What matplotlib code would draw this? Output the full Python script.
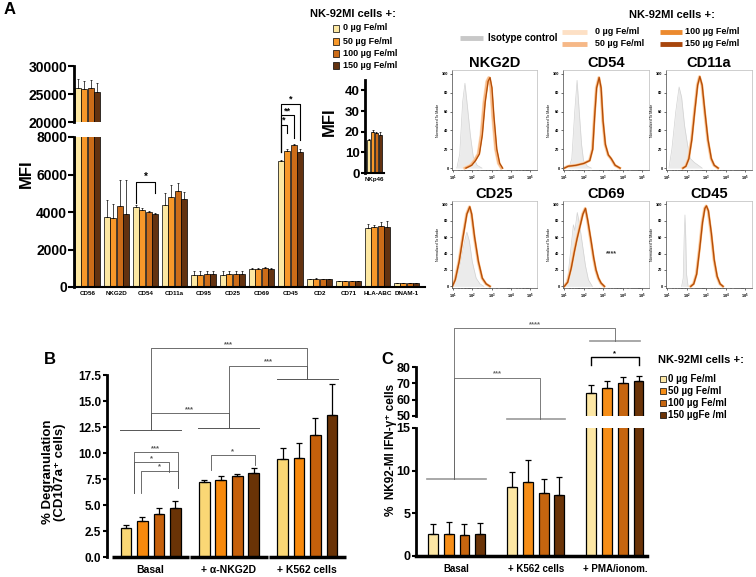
import numpy as np
import matplotlib
matplotlib.use('Agg')
import matplotlib.pyplot as plt
from matplotlib.patches import Rectangle

plt.rcParams['font.family'] = ['Liberation Sans', 'DejaVu Sans']
plt.rcParams['font.weight'] = 'bold'
plt.rcParams['axes.labelweight'] = 'bold'
plt.rcParams['axes.titleweight'] = 'bold'
plt.rcParams['mathtext.default'] = 'regular'

W, H = 756, 577

# ---------------- data ----------------
doses = ['0 µg Fe/ml', '50 µg Fe/ml', '100 µg Fe/ml', '150 µg Fe/ml']
doses_c = ['0 µg Fe/ml', '50 µg Fe/ml', '100 µg Fe/ml', '150 µgFe /ml']

# panel A: surface marker MFI
markers_a = ['CD56', 'NKG2D', 'CD54', 'CD11a', 'CD95', 'CD25', 'CD69', 'CD45',
             'CD2', 'CD71', 'HLA-ABC', 'DNAM-1']
mfi_0 = [26000, 3750, 4250, 4380, 650, 650, 980, 6700, 430, 300, 3130, 230]
mfi_50 = [25900, 3700, 4120, 4800, 650, 700, 960, 7250, 440, 300, 3200, 230]
mfi_100 = [26100, 4300, 3980, 5100, 700, 700, 1000, 7550, 430, 300, 3260, 230]
mfi_150 = [25400, 3900, 3880, 4720, 700, 670, 980, 7200, 420, 300, 3200, 230]
mfi_err_0 = [1600, 900, 100, 650, 200, 180, 40, 100, 20, 10, 230, 10]
mfi_err_50 = [1500, 750, 80, 650, 200, 170, 40, 120, 20, 10, 100, 10]
mfi_err_100 = [1400, 1400, 50, 450, 180, 180, 60, 100, 20, 10, 220, 10]
mfi_err_150 = [1500, 1800, 50, 350, 180, 180, 40, 150, 20, 10, 330, 10]

nkp46 = [15.8, 19.8, 19.2, 18.5]
nkp46_err = [0.5, 1.0, 0.8, 1.5]

# panel A histograms: (log10 fluorescence, % of mode)
nkg2d_iso = [(1.2, 0), (1.35, 15), (1.5, 70), (1.62, 90), (1.75, 65), (1.9, 35),
             (2.05, 12), (2.25, 3), (2.5, 0)]
nkg2d_pos = [(1.6, 0), (1.9, 3), (2.1, 8), (2.3, 15), (2.45, 35), (2.6, 70),
             (2.75, 92), (2.85, 96), (2.95, 85), (3.05, 55), (3.2, 20), (3.35, 5), (3.5, 0)]
cd54_iso = [(1.25, 0), (1.4, 10), (1.55, 60), (1.67, 93), (1.78, 60), (1.9, 25),
            (2.0, 8), (2.2, 2), (2.4, 0)]
cd54_pos = [(1.0, 0), (1.2, 2), (1.6, 3), (2.0, 5), (2.3, 8), (2.45, 20), (2.55, 55),
            (2.65, 85), (2.78, 96), (2.88, 85), (2.98, 50), (3.1, 25), (3.25, 14),
            (3.4, 10), (3.6, 3), (3.85, 0)]
cd11a_iso = [(1.1, 0), (1.25, 20), (1.45, 60), (1.62, 86), (1.75, 75), (1.9, 45),
             (2.05, 25), (2.2, 10), (2.4, 6), (2.6, 3), (2.8, 0)]
cd11a_pos = [(1.8, 0), (1.95, 2), (2.1, 10), (2.25, 30), (2.4, 60), (2.55, 88),
             (2.66, 97), (2.78, 88), (2.92, 60), (3.08, 30), (3.25, 10), (3.4, 3), (3.6, 0)]
cd25_iso = [(1.0, 0), (1.2, 10), (1.4, 30), (1.6, 55), (1.72, 66), (1.85, 55),
            (2.0, 30), (2.2, 10), (2.4, 3), (2.6, 0)]
cd25_pos = [(0.95, 0), (1.1, 8), (1.3, 30), (1.5, 60), (1.7, 88), (1.85, 97),
            (1.95, 88), (2.1, 60), (2.3, 30), (2.5, 10), (2.7, 3), (2.9, 0)]
cd69_iso = [(1.05, 0), (1.2, 12), (1.35, 45), (1.48, 75), (1.56, 68), (1.68, 90),
            (1.8, 75), (1.95, 50), (2.1, 25), (2.25, 8), (2.45, 0)]
cd69_pos = [(1.0, 0), (1.17, 5), (1.35, 22), (1.51, 42), (1.65, 58), (1.77, 70),
            (1.95, 88), (2.08, 95), (2.2, 80), (2.37, 55), (2.5, 35), (2.62, 20),
            (2.75, 10), (2.88, 4), (3.05, 0)]
cd45_iso = [(1.75, 0), (1.83, 10), (1.88, 60), (1.92, 87), (1.96, 60), (2.0, 15), (2.08, 0)]
cd45_pos = [(2.2, 0), (2.35, 3), (2.5, 15), (2.65, 45), (2.8, 78), (2.92, 95),
            (3.0, 98), (3.1, 92), (3.25, 65), (3.4, 32), (3.55, 12), (3.7, 3), (3.85, 0)]

# panel B: degranulation
groups_b = ['Basal', '+ α-NKG2D', '+ K562 cells']
degr_0 = [2.8, 7.2, 9.4]
degr_50 = [3.5, 7.4, 9.5]
degr_100 = [4.1, 7.8, 11.7]
degr_150 = [4.7, 8.1, 13.7]
degr_err_0 = [0.3, 0.25, 1.1]
degr_err_50 = [0.3, 0.35, 1.5]
degr_err_100 = [0.6, 0.2, 1.7]
degr_err_150 = [0.7, 0.45, 2.9]

# panel C: IFN-gamma
groups_c = ['Basal', '+ K562 cells', '+ PMA/ionom.']
ifn_0 = [2.6, 8.1, 64.0]
ifn_50 = [2.6, 8.7, 67.0]
ifn_100 = [2.5, 7.4, 70.5]
ifn_150 = [2.6, 7.2, 71.5]
ifn_err_0 = [1.1, 1.8, 5.0]
ifn_err_50 = [1.4, 2.5, 4.5]
ifn_err_100 = [1.2, 1.6, 3.5]
ifn_err_150 = [1.3, 2.0, 2.8]

# ---------------- styling ----------------
cols_a = ['#fde8a2', '#f7982a', '#cc6c18', '#633210']
cols_b = ['#fad775', '#f7890c', '#c5600b', '#6a3306']
cols_c = ['#fde7a4', '#f68e18', '#c6650f', '#6b3408']
hist_cols = ['#fde0c5', '#f6b887', '#ec8a2f', '#a8460c']
offs = np.array([-1.5, -0.5, 0.5, 1.5])


def box(l, t, r, b):
    return [l / W, 1 - b / H, (r - l) / W, (b - t) / H]


def bracket(ax, x0, x1, y, yl, yr, text, color='#555555', lw=0.6, fs=5.5):
    ax.plot([x0, x0, x1, x1], [yl, y, y, yr], color=color, lw=lw, clip_on=False)
    if text:
        ax.text((x0 + x1) / 2, y, text, ha='center', va='bottom', fontsize=fs,
                color=color, clip_on=False)


def bars(ax, centers, vals, errs, cols, width, elw, cap, edge_lw):
    for k in range(4):
        xs = centers + offs[k]
        ax.bar(xs, vals[k], width=width, color=cols[k], edgecolor='black', linewidth=edge_lw)
        ax.errorbar(xs, vals[k], yerr=[np.zeros(len(xs)), errs[k]], fmt='none',
                    ecolor='black', elinewidth=elw, capsize=cap, capthick=elw)


fig = plt.figure(figsize=(W / 100, H / 100), dpi=100)

# ---------------- panel A bars ----------------
gx_a = np.arange(len(markers_a)) * 4.46
vals_a = [mfi_0, mfi_50, mfi_100, mfi_150]
errs_a = [mfi_err_0, mfi_err_50, mfi_err_100, mfi_err_150]

ax_lo = fig.add_axes(box(74, 137, 425, 287))
ax_hi = fig.add_axes(box(74, 66, 425, 122))
for ax in (ax_lo, ax_hi):
    ax.set_facecolor('none')
    bars(ax, gx_a, vals_a, errs_a, cols_a, 0.9, 0.5, 1.0, 0.5)
    ax.set_xlim(-2.08, 51.9)
    ax.spines['top'].set_visible(False)
    ax.spines['right'].set_visible(False)
    ax.spines['left'].set_linewidth(2)
    ax.tick_params(axis='y', width=1.5, length=4, labelsize=10, pad=1)
ax_lo.set_ylim(0, 8000)
ax_lo.set_yticks([0, 2000, 4000, 6000, 8000])
ax_lo.spines['bottom'].set_linewidth(1.5)
ax_lo.set_xticks(gx_a)
ax_lo.set_xticklabels(markers_a, fontsize=4.5)
ax_lo.tick_params(axis='x', length=0, pad=3)
ax_hi.set_ylim(20000, 30000)
ax_hi.set_yticks([20000, 25000, 30000])
ax_hi.spines['bottom'].set_visible(False)
ax_hi.set_xticks([])

# significance in A
c54 = gx_a[2] + offs
bracket(ax_lo, c54[0], c54[3], 5600, 4480, 5010, '*', color='black', lw=0.8, fs=7)
c45 = gx_a[7] + offs
bracket(ax_lo, c45[0], c45[1], 8640, 7200, 8210, '*', color='black', lw=0.8, fs=6.5)
bracket(ax_lo, c45[0], c45[2], 9170, 7200, 7950, '**', color='black', lw=0.8, fs=6.5)
bracket(ax_lo, c45[0], c45[3], 9760, 7200, 7840, '*', color='black', lw=0.8, fs=6.5)

# NKp46 inset
ax_in = fig.add_axes(box(365, 80, 384, 173))
ax_in.set_facecolor('none')
for k in range(4):
    ax_in.bar(k, nkp46[k], width=0.9, color=cols_a[k], edgecolor='black', linewidth=0.5)
    ax_in.errorbar(k, nkp46[k], yerr=[[0], [nkp46_err[k]]], fmt='none', ecolor='black',
                   elinewidth=0.5, capsize=1, capthick=0.5)
ax_in.set_xlim(-0.95, 3.95)
ax_in.set_ylim(0, 45)
ax_in.set_yticks([0, 10, 20, 30, 40])
ax_in.spines['top'].set_visible(False)
ax_in.spines['right'].set_visible(False)
ax_in.spines['left'].set_linewidth(2)
ax_in.spines['bottom'].set_linewidth(1.5)
ax_in.tick_params(axis='y', width=1.5, length=3, labelsize=9.5, pad=1)
ax_in.set_xticks([1.5])
ax_in.set_xticklabels(['NKp46'], fontsize=4.5)
ax_in.tick_params(axis='x', length=0, pad=3)

# ---------------- histograms ----------------
hist_panels = [
    ('NKG2D', nkg2d_iso, nkg2d_pos, 0.07, (452, 70, 537, 170)),
    ('CD54', cd54_iso, cd54_pos, 0.02, (563, 70, 649, 170)),
    ('CD11a', cd11a_iso, cd11a_pos, 0.02, (666, 70, 752, 170)),
    ('CD25', cd25_iso, cd25_pos, 0.02, (452, 201, 537, 288)),
    ('CD69', cd69_iso, cd69_pos, 0.02, (563, 201, 649, 288)),
    ('CD45', cd45_iso, cd45_pos, 0.02, (666, 201, 752, 288)),
]
for title, iso, pos, shift, rect in hist_panels:
    ax = fig.add_axes(box(*rect))
    ix, iy = np.array(iso, dtype=float).T
    ax.fill_between(ix, iy, color='#ebebeb', lw=0)
    ax.plot(ix, iy, color='#d2d2d2', lw=0.5)
    px, py = np.array(pos, dtype=float).T
    shifts = [0.0, 0.01, shift, shift]
    widths = [2.2, 1.6, 1.1, 0.7]
    for k in range(4):
        ax.plot(px + shifts[k], py, color=hist_cols[k], lw=widths[k])
    ax.set_xlim(0.95, 5.35)
    ax.set_ylim(-2, 104)
    ax.set_xticks([1, 2, 3, 4, 5])
    ax.set_xticklabels([r'$10^{%d}$' % d for d in range(1, 6)])
    ax.set_xticks([d + np.log10(m) for d in range(1, 5) for m in range(2, 10)], minor=True)
    ax.set_yticks([0, 20, 40, 60, 80, 100])
    ax.tick_params(labelsize=2.8, length=1.5, width=0.4, pad=1)
    ax.tick_params(which='minor', length=0.8, width=0.3)
    for s in ('left', 'bottom'):
        ax.spines[s].set_linewidth(0.5)
        ax.spines[s].set_color('#444444')
    for s in ('top', 'right'):
        ax.spines[s].set_linewidth(0.5)
        ax.spines[s].set_color('#bbbbbb')
    ax.set_ylabel('Normalized To Mode', fontsize=2.6, fontweight='normal', labelpad=1.5)
    ax.set_title(title, fontsize=10.5, pad=2)
    if title == 'CD69':
        ax.text(3.45, 40, '****', fontsize=5, ha='center', va='center', color='#333333')

# ---------------- panel B ----------------
gx_b = np.array([0, 4.75, 9.5])
axb = fig.add_axes(box(107, 375, 343, 557))
axb.set_facecolor('none')
bars(axb, gx_b, [degr_0, degr_50, degr_100, degr_150],
     [degr_err_0, degr_err_50, degr_err_100, degr_err_150], cols_b, 0.65, 0.9, 2.0, 0.9)
axb.set_xlim(-2.65, 11.67)
axb.set_ylim(0, 17.5)
axb.set_yticks(np.arange(0, 17.6, 2.5))
axb.set_yticklabels(['%.1f' % v for v in np.arange(0, 17.6, 2.5)])
for s in ('top', 'right', 'bottom'):
    axb.spines[s].set_visible(False)
axb.spines['left'].set_linewidth(2)
axb.tick_params(axis='y', width=1.5, length=3, labelsize=8.5, pad=1)
axb.set_xticks(gx_b)
axb.set_xticklabels(groups_b, fontsize=7.5)
axb.tick_params(axis='x', length=0, pad=6)
for c in gx_b:
    axb.plot([max(c - 2.35, -2.65), c + 2.35], [0, 0], color='black', lw=2.5,
             clip_on=False, solid_capstyle='butt')

gc = '#555555'
for c, y in zip(gx_b, [12.2, 12.4, 17.1]):
    axb.plot([c - 1.85, c + 1.85], [y, y], color=gc, lw=0.7, clip_on=False)
bracket(axb, gx_b[0], gx_b[2], 20.1, 12.2, 17.1, '***')
bracket(axb, gx_b[0], gx_b[1], 13.85, 12.2, 12.4, '***')
bracket(axb, gx_b[1], gx_b[2], 18.4, 12.4, 17.1, '***')
bracket(axb, -1.03, 1.64, 10.1, 6.2, 6.6, '***')
bracket(axb, -1.03, 1.09, 9.1, 6.2, 8.2, '*')
bracket(axb, -0.6, 1.64, 8.3, 6.2, 6.6, '*')
bracket(axb, gx_b[1] - 1.09, gx_b[1] + 1.55, 9.8, 8.4, 8.85, '*')

# ---------------- panel C ----------------
gx_c = np.array([0, 5.03, 10.06])
vals_c = [ifn_0, ifn_50, ifn_100, ifn_150]
errs_c = [ifn_err_0, ifn_err_50, ifn_err_100, ifn_err_150]
axc_lo = fig.add_axes(box(416, 428, 647, 556))
axc_hi = fig.add_axes(box(416, 367, 647, 416))
for ax in (axc_lo, axc_hi):
    ax.set_facecolor('none')
    bars(ax, gx_c, vals_c, errs_c, cols_c, 0.63, 0.9, 2.0, 0.9)
    ax.set_xlim(-2.58, 12.1)
    ax.spines['top'].set_visible(False)
    ax.spines['right'].set_visible(False)
    ax.spines['left'].set_linewidth(2)
    ax.tick_params(axis='y', width=1.5, length=3, labelsize=9, pad=1)
axc_lo.set_ylim(0, 15)
axc_lo.set_yticks([0, 5, 10, 15])
axc_lo.spines['bottom'].set_linewidth(2.5)
axc_lo.set_xticks(gx_c)
axc_lo.set_xticklabels(groups_c, fontsize=7)
axc_lo.tick_params(axis='x', length=0, pad=6)
axc_hi.set_ylim(50, 80)
axc_hi.set_yticks([50, 60, 70, 80])
axc_hi.spines['bottom'].set_visible(False)
axc_hi.set_xticks([])

lc = '#999999'
for c, y, hw in zip(gx_c, [9.0, 16.05, 25.2], [1.87, 1.85, 1.6]):
    axc_lo.plot([c - hw, c + hw], [y, y], color=lc, lw=1.2, clip_on=False)
bracket(axc_lo, gx_c[0] - 0.16, gx_c[2], 26.7, 9.0, 25.2, '****', color='#666666')
bracket(axc_lo, gx_c[0] - 0.16, gx_c[1] + 0.3, 20.9, 9.0, 16.05, '***', color='#666666')
bracket(axc_lo, gx_c[2] - 1.5, gx_c[2] + 1.5, 23.3, 22.4, 22.4, '*', color='black', lw=1.0)

# ---------------- overlay: labels and legends ----------------
ov = fig.add_axes([0, 0, 1, 1])
ov.set_xlim(0, W)
ov.set_ylim(H, 0)
ov.axis('off')
ov.set_facecolor('none')

ov.text(4, 9, 'A', fontsize=12, ha='left', va='center')
ov.text(44, 360, 'B', fontsize=12, ha='left', va='center')
ov.text(381, 360, 'C', fontsize=12, ha='left', va='center')

ov.text(26, 174, 'MFI', fontsize=12, rotation=90, ha='center', va='center')
ov.text(329, 122, 'MFI', fontsize=12, rotation=90, ha='center', va='center')
ov.text(54, 472, '% Degranulation\n(CD107a⁺ cells)', fontsize=9.5, rotation=90,
        ha='center', va='center', linespacing=1.1)
ov.text(391, 450, '%  NK92-MI IFN-γ⁺ cells', fontsize=8.5, rotation=90,
        ha='center', va='center')

# legend A
ov.text(310, 14, 'NK-92MI cells +:', fontsize=8, ha='left', va='center')
for k, yy in enumerate([28, 41, 53, 65]):
    ov.add_patch(Rectangle((333, yy - 3.5), 6, 7, facecolor=cols_a[k], edgecolor='black', lw=0.5))
    ov.text(343, yy, doses[k], fontsize=6.5, ha='left', va='center')

# legend C
ov.text(658, 360, 'NK-92MI cells +:', fontsize=8, ha='left', va='center')
for k, yy in enumerate([379, 391, 403, 415]):
    ov.add_patch(Rectangle((660, yy - 3), 5.5, 6, facecolor=cols_c[k], edgecolor='black', lw=0.5))
    ov.text(668, yy, doses_c[k], fontsize=7, ha='left', va='center')

# legend histograms
ov.text(672, 15, 'NK-92MI cells +:', fontsize=8, ha='center', va='center')
ov.plot([460, 483], [38, 38], color='#c8c8c8', lw=3.5, solid_capstyle='butt')
ov.text(488, 38, 'Isotype control', fontsize=7, ha='left', va='center')
leg_pos = [(562, 587, 32), (562, 587, 44), (660, 682, 32), (660, 682, 44)]
for k, (x0, x1, yy) in enumerate(leg_pos):
    ov.plot([x0, x1], [yy, yy], color=hist_cols[k], lw=3.5, solid_capstyle='butt')
    ov.text(x1 + 8 if k < 2 else x1 + 3, yy, doses[k], fontsize=6.5, ha='left', va='center')

fig.savefig('out.png', dpi=100)
